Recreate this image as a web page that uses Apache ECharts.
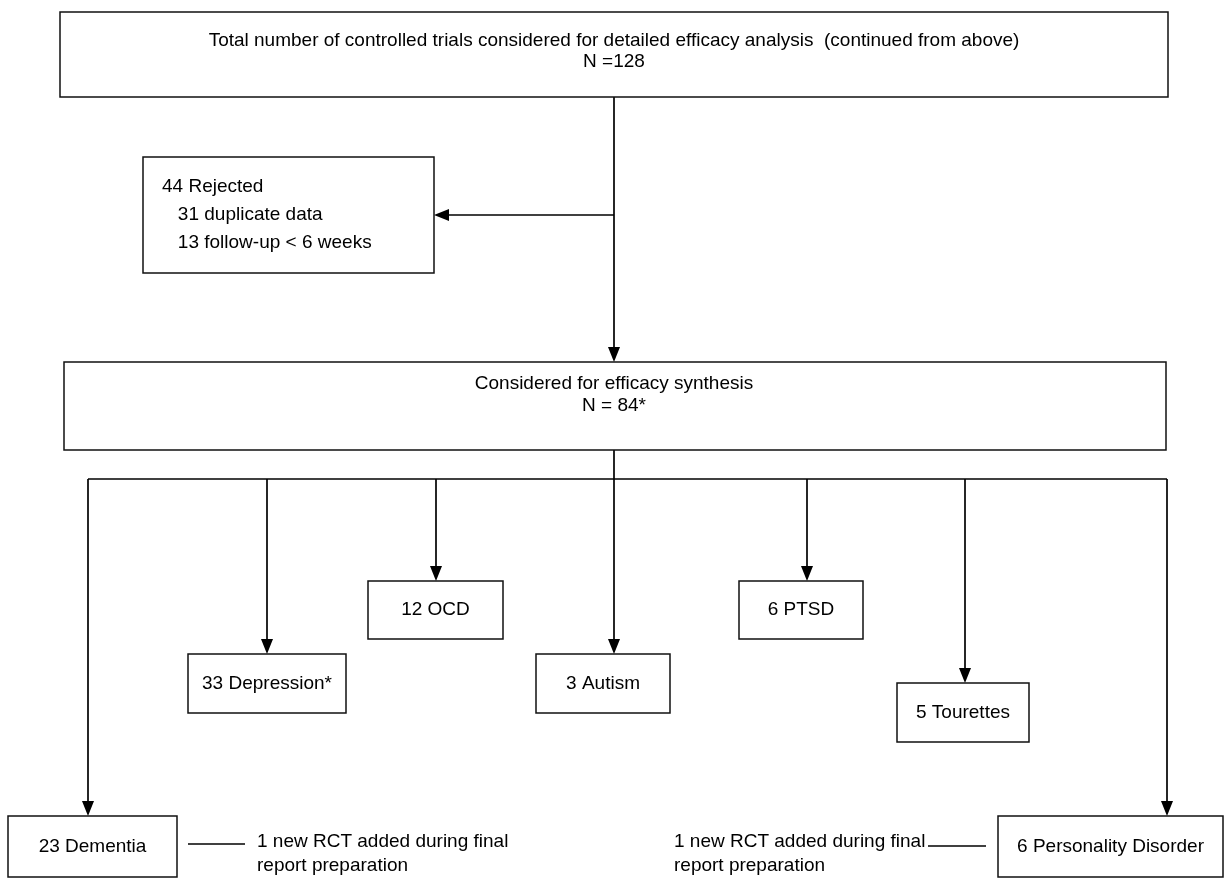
<!DOCTYPE html>
<html><head><meta charset="utf-8">
<script src="https://cdn.jsdelivr.net/npm/echarts@6/dist/echarts.min.js"></script>
<style>html,body{margin:0;padding:0;background:#fff}#c{width:1225px;height:878px}</style>
</head><body><div id="c"></div>
<script>
// ---- data ----
const totalTrials = 128;
const rejectedTotal = 44;
const rejectedReasons = ['duplicate data', 'follow-up < 6 weeks'];
const rejectedCounts = [31, 13];
const synthesisTotal = '84*';
const conditions = ['Depression*', 'OCD', 'Autism', 'PTSD', 'Tourettes', 'Dementia', 'Personality Disorder'];
const conditionCounts = [33, 12, 3, 6, 5, 23, 6];
const noteLines = ['1 new RCT added during final', 'report preparation'];

// ---- layout (page pixels) ----
const W = 1225, H = 878;
const FONT = 'Liberation Sans, Arial, sans-serif';
const FS = 19;
const conditionBoxes = [[188,654,346,713],[368,581,503,639],[536,654,670,713],[739,581,863,639],[897,683,1029,742],[8,816,177,877],[998,816,1223,877]];
const conditionArrowX = [267,436,614,807,965,88,1167];

// boxes: rect [x1,y1,x2,y2], text, align, text anchor (block middle), line height
const boxes = [];
boxes.push({r:[60,12,1168,97], text:'Total number of controlled trials considered for detailed efficacy analysis  (continued from above)\nN =' + totalTrials, align:'center', tx:614, ty:51, lh:21});
boxes.push({r:[143,157,434,273], text: rejectedTotal + ' Rejected\n   ' + rejectedCounts.map((c,i)=>c + ' ' + rejectedReasons[i]).join('\n   '), align:'left', tx:162, ty:215, lh:28});
boxes.push({r:[64,362,1166,450], text:'Considered for efficacy synthesis\nN = ' + synthesisTotal, align:'center', tx:614, ty:395, lh:22});
conditions.forEach((c,i)=>{
  const r = conditionBoxes[i];
  boxes.push({r:r, text: conditionCounts[i] + ' ' + c, align:'center', tx:(r[0]+r[2])/2, ty:(r[1]+r[3])/2, lh:FS});
});

// connectors: [x1,y1,x2,y2,arrow]
const links = [
  [614,97,614,362,1],
  [614,215,434,215,1],
  [614,450,614,479,0],
  [88,479,1167,479,0],
  [188,844,245,844,0],
  [928,846,986,846,0]
];
conditionArrowX.forEach((x,i)=>links.push([x,479,x,conditionBoxes[i][1],1]));

const notes = [
  {x:257, y:842},
  {x:674, y:842}
];

const chart = echarts.init(document.getElementById('c'), null, {renderer:'canvas'});

chart.setOption({
  animation:false,
  backgroundColor:'#ffffff',
  grid:{left:0,right:0,top:0,bottom:0},
  xAxis:{type:'value',min:0,max:W,show:false},
  yAxis:{type:'value',min:0,max:H,inverse:true,show:false},
  series:[
    {
      type:'custom',
      coordinateSystem:'cartesian2d',
      data: links.map(l=>l),
      renderItem:function(params, api){
        const p1 = api.coord([api.value(0), api.value(1)]);
        const p2 = api.coord([api.value(2), api.value(3)]);
        const arrow = api.value(4);
        const children = [];
        let end = p2.slice();
        const dx = p2[0]-p1[0], dy = p2[1]-p1[1];
        const len = Math.sqrt(dx*dx+dy*dy);
        const ux = dx/len, uy = dy/len;
        const AL = 15, AW = 6;
        if (arrow) end = [p2[0]-ux*AL*0.8, p2[1]-uy*AL*0.8];
        children.push({type:'line', shape:{x1:p1[0],y1:p1[1],x2:end[0],y2:end[1]}, style:{stroke:'#000',lineWidth:1.7}});
        if (arrow) {
          const bx = p2[0]-ux*AL, by = p2[1]-uy*AL;
          children.push({type:'polygon', shape:{points:[[p2[0],p2[1]],[bx - uy*AW, by + ux*AW],[bx + uy*AW, by - ux*AW]]}, style:{fill:'#000'}});
        }
        return {type:'group', children:children};
      },
      z:2
    },
    {
      type:'custom',
      coordinateSystem:'cartesian2d',
      data: boxes.map(b=>[b.r[0],b.r[1],b.r[2],b.r[3],b.tx,b.ty]),
      renderItem:function(params, api){
        const b = boxes[params.dataIndex];
        const a = api.coord([api.value(0), api.value(1)]);
        const c = api.coord([api.value(2), api.value(3)]);
        const t = api.coord([api.value(4), api.value(5)]);
        return {type:'group', children:[
          {type:'rect', shape:{x:a[0],y:a[1],width:c[0]-a[0],height:c[1]-a[1]}, style:{fill:'#fff',stroke:'#111',lineWidth:1.5}},
          {type:'text', style:{text:b.text, x:t[0], y:t[1], align:b.align, verticalAlign:'middle', fontFamily:FONT, fontSize:FS, lineHeight:b.lh, fill:'#000'}}
        ]};
      },
      z:3
    },
    {
      type:'custom',
      coordinateSystem:'cartesian2d',
      data: notes.map(n=>[n.x,n.y]),
      renderItem:function(params, api){
        const p = api.coord([api.value(0), api.value(1)]);
        return {type:'text', style:{text:noteLines.join('\n'), x:p[0], y:p[1], align:'left', verticalAlign:'top', fontFamily:FONT, fontSize:FS, lineHeight:24, fill:'#000'}, y: -12};
      },
      z:3
    }
  ]
});
</script>
</body></html>
